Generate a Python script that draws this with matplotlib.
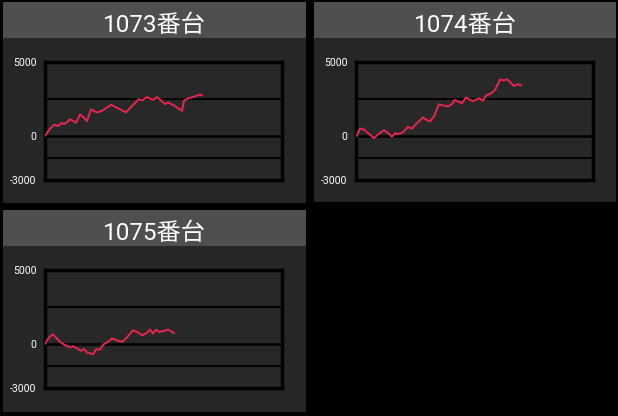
import matplotlib.pyplot as plt
from matplotlib.patches import Rectangle

# machine titles
titles = ["1073番台", "1074番台", "1075番台"]

# x positions (px-ish units along the plot) and balance values
x_1073 = [0, 5, 9, 13, 17, 19, 22, 25, 28, 31, 35, 38, 42, 46, 50, 53, 58, 66,
          73, 81, 88, 94, 97, 102, 106, 109, 112, 116, 120, 123, 128, 132, 137,
          139, 143, 148, 155, 157]
y_1073 = [0, 460, 740, 650, 860, 790, 900, 1110, 990, 880, 1430, 1270, 990,
          1780, 1620, 1570, 1730, 2080, 1850, 1570, 2080, 2470, 2380, 2610,
          2470, 2430, 2610, 2380, 2130, 2240, 2080, 1900, 1670, 2360, 2520,
          2610, 2780, 2730]

x_1074 = [1, 4, 8, 13, 18, 22, 28, 32, 36, 39, 42, 47, 52, 56, 61, 67, 70, 74,
          78, 83, 88, 92, 95, 99, 102, 106, 110, 113, 117, 123, 127, 130, 135,
          139, 144, 148, 151, 154, 158, 162, 165]
y_1074 = [0, 480, 410, 120, -170, 80, 370, 180, -80, 160, 100, 230, 590, 480,
          850, 1230, 1080, 970, 1300, 2120, 2030, 1970, 2080, 2410, 2300, 2190,
          2590, 2450, 2340, 2520, 2370, 2700, 2860, 3080, 3790, 3740, 3810,
          3630, 3350, 3480, 3410]

x_1075 = [0, 4, 8, 11, 15, 20, 25, 28, 32, 36, 39, 42, 48, 51, 55, 59, 63, 67,
          72, 77, 81, 88, 92, 97, 101, 105, 108, 111, 114, 119, 123, 127, 129]
y_1075 = [0, 410, 630, 410, 120, -100, -250, -170, -320, -480, -370, -590,
          -720, -390, -390, -30, 120, 350, 230, 120, 350, 900, 790, 570, 680,
          950, 680, 950, 790, 860, 950, 790, 720]

series = [(x_1073, y_1073), (x_1074, y_1074), (x_1075, y_1075)]
y_ticks = [5000, 0, -3000]
mid_lines = [2500, -1500]

W, H = 618, 416

# panel boxes in pixels: left, top, right, bottom
panels = [(3, 2, 306, 203), (314, 2, 616, 202), (3, 210, 306, 412)]


def fig_rect(l, t, r, b):
    return [l / W, 1 - b / H, (r - l) / W, (b - t) / H]


fig = plt.figure(figsize=(W / 100, H / 100), dpi=100, facecolor="black")

for i, (l, t, r, b) in enumerate(panels):
    # panel body and title bar, behind the plot axes
    fig.add_artist(Rectangle((l / W, 1 - b / H), (r - l) / W, (b - t) / H,
                             transform=fig.transFigure, facecolor="#262626",
                             edgecolor="none", zorder=-2))
    fig.add_artist(Rectangle((l / W, 1 - (t + 35.7) / H), (r - l) / W,
                             35.7 / H, transform=fig.transFigure,
                             facecolor="#4f4f4f", edgecolor="none", zorder=-1))
    fig.text((l + r) / 2 / W, 1 - (t + 30) / H, titles[i], color="white",
             fontsize=17.5, ha="center", va="baseline",
             family=["Roboto", "Noto Sans CJK JP"])

    ax = fig.add_axes(fig_rect(l + 42, t + 59.7, l + 279, t + 178))
    ax.set_facecolor("#282828")
    xs, ys = series[i]
    ax.plot(xs, ys, color="#e8264e", lw=1.4, zorder=3)
    for v in mid_lines:
        ax.axhline(v, color="black", lw=1.3, zorder=2)
    ax.axhline(0, color="black", lw=1.8, zorder=2)
    ax.set_xlim(0, 237)
    ax.set_ylim(-3000, 5000)
    ax.set_xticks([])
    ax.set_yticks(y_ticks)
    ax.set_yticklabels([str(v) for v in y_ticks], family="Roboto",
                       fontsize=7.5, color="white")
    ax.tick_params(axis="y", length=0, pad=6)
    for s in ax.spines.values():
        s.set_color("black")
        s.set_linewidth(2.5)

fig.savefig("out.png", dpi=100, facecolor="black")
